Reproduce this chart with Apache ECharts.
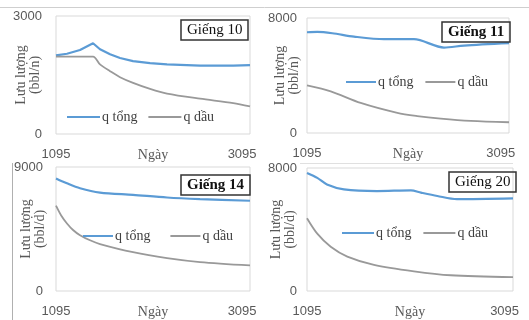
<!DOCTYPE html>
<html>
<head>
<meta charset="utf-8">
<script src="https://cdn.jsdelivr.net/npm/echarts@6/dist/echarts.min.js"></script>
<style>
  html, body { margin: 0; padding: 0; background: #fff; }
  #wells { width: 529px; height: 320px; }
</style>
</head>
<body>
<div id="wells"></div>
<script>
// ten gieng, truc y max, don vi
var wellNames = ['Giếng 10', 'Giếng 11', 'Giếng 14', 'Giếng 20'];
var yMax = [3000, 8000, 9000, 8000];
var yUnits = ['(bbl/n)', '(bbl/n)', '(bbl/d)', '(bbl/d)'];
var xTicks = [1095, 3095];

// q tong (ngay, luu luong)
var qTong10 = [[1095, 2000], [1213, 2040], [1353, 2135], [1493, 2308], [1568, 2154], [1676, 2026], [1783, 1931], [1923, 1854], [2106, 1802], [2288, 1770], [2643, 1736], [3000, 1736], [3180, 1750]];
var qTong11 = [[1095, 7010], [1201, 7030], [1356, 6940], [1580, 6705], [1890, 6525], [2199, 6525], [2509, 5943], [2715, 6080], [3180, 6248]];
var qTong14 = [[1095, 8170], [1213, 7814], [1353, 7457], [1568, 7143], [1923, 6979], [2288, 6786], [2643, 6671], [3180, 6550]];
var qTong20 = [[1095, 7680], [1199, 7360], [1297, 6930], [1469, 6610], [1803, 6500], [2147, 6550], [2249, 6400], [2414, 6180], [2613, 5970], [3180, 6020]];

// q dau
var qDau10 = [[1095, 1966], [1493, 1966], [1568, 1769], [1676, 1597], [1783, 1444], [1923, 1300], [2106, 1146], [2288, 1026], [2643, 897], [3000, 787], [3180, 700]];
var qDau11 = [[1095, 3310], [1340, 2895], [1649, 2090], [2027, 1400], [2233, 1180], [2475, 1004], [2784, 845], [3180, 748]];
var qDau14 = [[1095, 6193], [1149, 5500], [1213, 4900], [1278, 4430], [1353, 4050], [1461, 3680], [1568, 3407], [1923, 2814], [2288, 2386], [2643, 2100], [3180, 1857]];
var qDau20 = [[1095, 4736], [1199, 3731], [1335, 2880], [1503, 2240], [1773, 1702], [2178, 1280], [2549, 1024], [3180, 896]];

var qTong = [qTong10, qTong11, qTong14, qTong20];
var qDau = [qDau10, qDau11, qDau14, qDau20];

// vi tri tung o
var grids = [
  { left: 56, top: 16, width: 194, height: 118 },
  { left: 307, top: 18, width: 202, height: 115 },
  { left: 56, top: 167, width: 194, height: 126 },
  { left: 307, top: 168, width: 206, height: 125 }
];
var yNameGap = [14, 6, 9, 10];
var yLabelMargin = [14, 10, 13, 10];
var legendPos = [
  { left: 67, top: 110, gap: 11, w: 33 },
  { left: 346, top: 75, gap: 12, w: 30 },
  { left: 83, top: 229, gap: 20, w: 30 },
  { left: 342, top: 226, gap: 12, w: 32 }
];
var titlePos = [
  { left: 181, top: 20, bold: false },
  { left: 442, top: 22, bold: true },
  { left: 181, top: 175, bold: true },
  { left: 449, top: 172, bold: false }
];

var serif = '"Liberation Serif", "DejaVu Serif", serif';
var sans = '"Liberation Sans", Arial, sans-serif';

function plain(v) { return String(v); }

var option = {
  backgroundColor: '#fff',
  animation: false,
  title: [],
  legend: [],
  grid: [],
  xAxis: [],
  yAxis: [],
  series: [],
  graphic: [
    { type: 'line', shape: { x1: 0, y1: 7.5, x2: 529, y2: 7.5 }, style: { stroke: '#cfcfcf', lineWidth: 1 } },
    { type: 'line', shape: { x1: 12.5, y1: 163, x2: 12.5, y2: 320 }, style: { stroke: '#b0b0b0', lineWidth: 1 } },
    { type: 'line', shape: { x1: 300, y1: 163.5, x2: 513, y2: 163.5 }, style: { stroke: '#e0e0e0', lineWidth: 1 } }
  ]
};

for (var i = 0; i < 4; i++) {
  var g = grids[i];
  option.grid.push({
    left: g.left, top: g.top, width: g.width, height: g.height,
    show: true, borderColor: '#d9d9d9', borderWidth: 1, containLabel: false
  });
  option.xAxis.push({
    type: 'value', gridIndex: i, min: 1095, max: 3180,
    name: 'Ngày', nameLocation: 'middle', nameGap: 14, nameMoveOverlap: false,
    nameTextStyle: { fontFamily: serif, fontSize: 14, color: '#595959' },
    axisLine: { show: false }, axisTick: { show: false }, splitLine: { show: false },
    axisLabel: {
      customValues: xTicks, margin: 14, formatter: plain,
      fontFamily: sans, fontSize: 13, color: '#595959'
    }
  });
  option.yAxis.push({
    type: 'value', gridIndex: i, min: 0, max: yMax[i],
    name: 'Lưu lượng\n' + yUnits[i], nameLocation: 'middle', nameGap: yNameGap[i], nameMoveOverlap: false,
    nameTextStyle: { fontFamily: serif, fontSize: 14, lineHeight: 14, color: '#595959' },
    axisLine: { show: false }, axisTick: { show: false }, splitLine: { show: false },
    axisLabel: {
      customValues: [0, yMax[i]], margin: yLabelMargin[i], formatter: plain,
      fontFamily: sans, fontSize: 13, color: '#595959'
    }
  });
  option.series.push({
    name: 'q tổng', type: 'line', xAxisIndex: i, yAxisIndex: i,
    data: qTong[i], symbol: 'none', smooth: i === 0 ? false : 0.3,
    lineStyle: { color: '#5b9bd5', width: 2.2 }, itemStyle: { color: '#5b9bd5' }
  });
  option.series.push({
    name: 'q dầu', type: 'line', xAxisIndex: i, yAxisIndex: i,
    data: qDau[i], symbol: 'none', smooth: 0.3,
    lineStyle: { color: '#999999', width: 1.8 }, itemStyle: { color: '#999999' }
  });
  var lp = legendPos[i];
  option.legend.push({
    left: lp.left, top: lp.top, itemWidth: lp.w, itemHeight: 2, itemGap: lp.gap,
    icon: 'rect', padding: 0, selectedMode: false,
    data: ['q tổng', 'q dầu'],
    textStyle: { fontFamily: serif, fontSize: 14, color: '#404040', padding: [0, 0, 0, -3] }
  });
  var tp = titlePos[i];
  option.title.push({
    text: wellNames[i], left: tp.left, top: tp.top,
    padding: [3, 6, 2, 6], borderColor: '#333', borderWidth: 1.5,
    textStyle: { fontFamily: serif, fontSize: 15, color: '#111', fontWeight: tp.bold ? 'bold' : 'normal' }
  });
}

var chart = echarts.init(document.getElementById('wells'));
chart.setOption(option);
</script>
</body>
</html>
